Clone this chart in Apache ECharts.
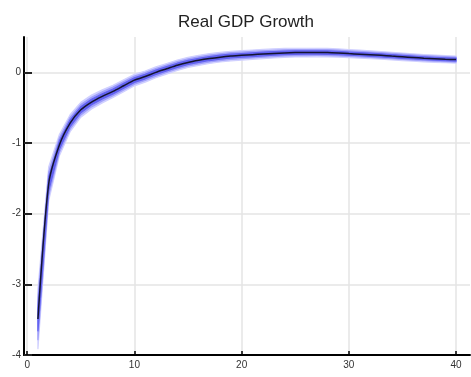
<!DOCTYPE html>
<html>
<head>
<meta charset="utf-8">
<script src="https://cdn.jsdelivr.net/npm/echarts@6/dist/echarts.min.js"></script>
<style>html,body{margin:0;padding:0;background:#fff}#c{width:471px;height:377px}</style>
</head>
<body>
<div id="c"></div>
<script>
var titleText = "Real GDP Growth";
var quarters = [1,2,3,4,5,6,7,8,9,10,11,12,13,14,15,16,17,18,19,20,21,22,23,24,25,26,27,28,29,30,31,32,33,34,35,36,37,38,39,40];
var median = [-3.49,-1.58,-1.03,-0.72,-0.53,-0.42,-0.34,-0.27,-0.19,-0.11,-0.06,0.00,0.05,0.10,0.14,0.17,0.195,0.215,0.23,0.24,0.25,0.26,0.268,0.275,0.279,0.28,0.28,0.279,0.273,0.265,0.257,0.249,0.24,0.23,0.22,0.21,0.20,0.193,0.186,0.18];
var halfWidth = [0.42,0.24,0.15,0.12,0.105,0.098,0.092,0.087,0.084,0.081,0.079,0.077,0.075,0.073,0.072,0.071,0.07,0.069,0.068,0.067,0.066,0.065,0.064,0.063,0.062,0.061,0.06,0.059,0.058,0.057,0.056,0.055,0.055,0.054,0.053,0.052,0.052,0.051,0.05,0.05];
var xTicks = [0,10,20,30,40];
var yTicks = [-4,-3,-2,-1,0];
var yGrid = [-3,-2,-1,0];
var bandLevels = [1.0, 0.7, 0.4];
var bandColors = ['#d0d0ff', '#a0a0fa', '#6262f0'];

var series = [];
bandLevels.forEach(function (lv, k) {
  var bandData = quarters.map(function (q, i) {
    return [q, median[i] - halfWidth[i] * lv, median[i] + halfWidth[i] * lv];
  });
  series.push({
    type:'custom', data:bandData, encode:{x:0, y:[1,2]}, silent:true, clip:true, z:1+k,
    renderItem:function (params, api) {
      if (params.dataIndex !== 0) return null;
      var up = [], lo = [];
      for (var i = 0; i < bandData.length; i++) {
        up.push(api.coord([bandData[i][0], bandData[i][2]]));
        lo.push(api.coord([bandData[i][0], bandData[i][1]]));
      }
      var pts = up.concat(lo.reverse());
      return {type:'polygon', shape:{points:pts}, style:{fill:bandColors[k], stroke:bandColors[k], lineWidth:1.2, lineJoin:'round'},
        clipPath:{type:'rect', shape:{x:params.coordSys.x, y:params.coordSys.y, width:params.coordSys.width, height:params.coordSys.height}}};
    }
  });
});
series.push({type:'line', data:quarters.map(function(q,i){return [q, median[i]];}), symbol:'none', smooth:0.25,
  lineStyle:{color:'#141430', width:1.5}, z:10});

var chart = echarts.init(document.getElementById('c'), null, {renderer:'canvas'});
chart.setOption({
  animation:false,
  backgroundColor:'#fff',
  title:{text:titleText, left:241, top:9, textAlign:'center',
    textStyle:{fontFamily:'Liberation Sans, Arial', fontSize:17, fontWeight:'normal', color:'#222'}},
  grid:{left:24, right:1, top:37, bottom:22, containLabel:false},
  xAxis:{type:'value', min:-0.3, max:41.3,
    axisLine:{onZero:false, lineStyle:{color:'#000', width:2}},
    axisTick:{inside:true, length:4, customValues:xTicks, lineStyle:{color:'#000', width:1.5}},
    axisLabel:{customValues:xTicks, margin:5, fontSize:10, color:'#333', fontFamily:'Liberation Sans, Arial'},
    splitLine:{show:true, customValues:xTicks, lineStyle:{color:'#e4e4e4', width:1.5}}},
  yAxis:{type:'value', min:-4, max:0.5,
    axisLine:{show:true, onZero:false, lineStyle:{color:'#000', width:2}},
    axisTick:{show:true, inside:true, length:8, customValues:yTicks, lineStyle:{color:'#222', width:2}},
    axisLabel:{margin:3, fontSize:10, color:'#333', customValues:yTicks, fontFamily:'Liberation Sans, Arial'},
    splitLine:{show:true, customValues:yGrid, lineStyle:{color:'#e4e4e4', width:1.5}}},
  series:series
});
</script>
</body>
</html>
